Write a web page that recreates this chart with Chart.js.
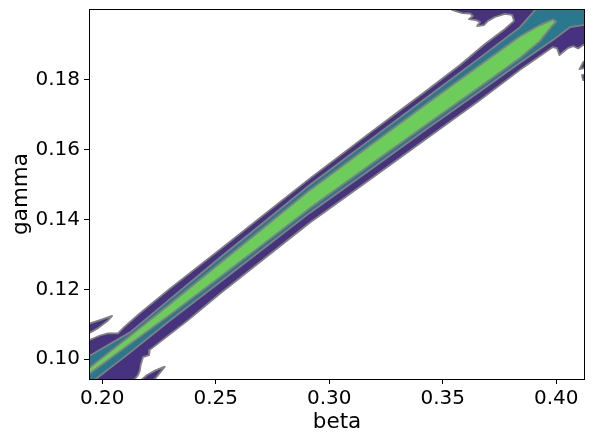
<!DOCTYPE html>
<html>
<head>
<meta charset="utf-8">
<script src="https://cdn.jsdelivr.net/npm/chart.js@4.4.1/dist/chart.umd.min.js"></script>
<style>
  html,body{margin:0;padding:0;background:#fff;}
  #wrap{width:594px;height:443px;}
</style>
</head>
<body>
<div id="wrap"><canvas id="myChart"></canvas></div>
<script>
const x_ticks = [0.20, 0.25, 0.30, 0.35, 0.40]
const y_ticks = [0.10, 0.12, 0.14, 0.16, 0.18]
const x_range = [0.19414, 0.41264]
const y_range = [0.09437, 0.20009]

const level_colors = ['#46327e', '#2a788e', '#6ccd5a']
const line_color = '#808080'

//level 1 (purple) [beta, gamma]
const lv1_main = [
  [0.1924,0.0929],[0.1924,0.1049],[0.1944,0.1055],[0.1990,0.1068],[0.2025,0.1074],[0.2069,0.1074],
  [0.2096,0.1092],[0.2166,0.1132],[0.2298,0.1202],[0.2519,0.1314],[0.2739,0.1427],[0.2915,0.1517],
  [0.3179,0.1647],[0.3311,0.1711],[0.3435,0.1771],[0.3576,0.1841],[0.3686,0.1901],[0.3774,0.1944],
  [0.3814,0.1967],
  [0.3805,0.1984],[0.3774,0.1987],[0.3730,0.1978],[0.3699,0.1967],[0.3681,0.1955],[0.3651,0.1952],
  [0.3664,0.1964],[0.3646,0.1969],[0.3615,0.1972],[0.3633,0.1981],[0.3620,0.1988],[0.3585,0.1989],
  [0.3541,0.1998],[0.3536,0.2012],[0.4170,0.2012],[0.4170,0.1898],
  [0.4118,0.1898],[0.4096,0.1888],[0.4074,0.1895],[0.4051,0.1889],[0.4030,0.1878],[0.4014,0.1869],
  [0.4003,0.1889],[0.3985,0.1892],[0.3840,0.1827],[0.3664,0.1741],[0.3435,0.1634],[0.3179,0.1514],
  [0.2915,0.1391],[0.2739,0.1301],[0.2519,0.1188],[0.2378,0.1112],
  [0.2209,0.1027],[0.2206,0.1012],[0.2179,0.1006],[0.2169,0.0984],
  [0.2165,0.0967],[0.2157,0.0955],[0.2143,0.0943],[0.2140,0.0929]
]
const lv1_finger = [
  [0.1924,0.1098],[0.1990,0.1112],[0.2043,0.1124],[0.2025,0.1111],[0.1981,0.1089],[0.1944,0.1075],[0.1924,0.1069]
]
const lv1_spike = [
  [0.2166,0.0938],[0.2197,0.0955],[0.2237,0.0969],[0.2275,0.0979],[0.2263,0.0969],[0.2232,0.0944],[0.2228,0.0938]
]
const lv1_island_a = [[0.4148,0.1855],[0.4119,0.1850],[0.4102,0.1829],[0.4122,0.1832],[0.4148,0.1827]]
const lv1_island_b = [[0.4148,0.1818],[0.4113,0.1812],[0.4118,0.1798],[0.4148,0.1798]]

//level 2 (teal)
const lv2 = [
  [0.1924,0.1015],[0.1950,0.1012],[0.2122,0.1077],[0.2298,0.1172],[0.2519,0.1291],[0.2739,0.1406],
  [0.2915,0.1499],[0.3179,0.1627],[0.3435,0.1751],[0.3664,0.1862],[0.3840,0.1949],[0.3911,0.2001],
  [0.3928,0.2015],[0.4170,0.2015],[0.4170,0.1955],[0.4118,0.1955],[0.4060,0.1949],[0.3985,0.1912],
  [0.3840,0.1847],[0.3664,0.1766],[0.3435,0.1661],[0.3179,0.1541],[0.2915,0.1419],[0.2739,0.1331],
  [0.2519,0.1221],[0.2298,0.1111],[0.2122,0.1019],[0.1972,0.0944],[0.1963,0.0929],[0.1924,0.0929]
]

//level 3 (green)
const lv3 = [
  [0.1924,0.0967],[0.1950,0.0979],[0.2122,0.1067],[0.2298,0.1158],[0.2519,0.1275],[0.2739,0.1391],
  [0.2915,0.1484],[0.3179,0.1611],[0.3435,0.1733],[0.3664,0.1841],[0.3840,0.1923],[0.3928,0.1955],
  [0.3963,0.1965],[0.3985,0.1971],[0.3999,0.1965],[0.3977,0.1949],[0.3928,0.1909],[0.3840,0.1861],
  [0.3664,0.1779],[0.3435,0.1674],[0.3179,0.1555],[0.2915,0.1432],[0.2739,0.1344],[0.2519,0.1235],
  [0.2298,0.1127],[0.2122,0.1044],[0.1950,0.0962],[0.1924,0.0949]
]

const contours = [
  {pts: lv1_main, lv: 0}, {pts: lv1_finger, lv: 0}, {pts: lv1_spike, lv: 0},
  {pts: lv1_island_a, lv: 0}, {pts: lv1_island_b, lv: 0},
  {pts: lv2, lv: 1}, {pts: lv3, lv: 2},
]

let graph_obj

const get_graph_data = () => {
  const datasets = contours.map((c) => {
    const data = c.pts.map(([x, y]) => ({x, y}))
    data.push({...data[0]}) //close
    return {
      data,
      showLine: true,
      fill: 'shape',
      backgroundColor: level_colors[c.lv],
      borderColor: line_color,
      borderWidth: 1.8,
      borderJoinStyle: 'round',
      pointRadius: 0,
      tension: 0,
      clip: 0,
      order: 3 - c.lv,
    }
  })
  return {datasets}
}

const frame_plugin = {
  id: 'frame',
  afterDraw(chart) {
    const {ctx, chartArea: a} = chart
    ctx.save()
    ctx.strokeStyle = '#000'
    ctx.lineWidth = 1
    const l = Math.floor(a.left) + 0.5, t = Math.floor(a.top) + 0.5
    const r = Math.floor(a.right) - 0.5, b = Math.floor(a.bottom) + 0.5
    ctx.strokeRect(l, t, r - l, b - t)
    ctx.restore()
  }
}

const create_graph = (ctx) => {
  if (graph_obj) graph_obj.destroy()
  Chart.defaults.font.family = '"DejaVu Sans", sans-serif'
  Chart.defaults.font.size = 20
  Chart.defaults.color = '#000'

  graph_obj = new Chart(ctx, {
    type: 'scatter',
    data: get_graph_data(),
    plugins: [frame_plugin],
    options: {
      responsive: true,
      maintainAspectRatio: false,
      animation: false,
      layout: {padding: {top: 9, right: 9, left: 0, bottom: 0}},
      plugins: {legend: {display: false}, tooltip: {enabled: false}},
      scales: {
        x: {
          type: 'linear',
          min: x_range[0], max: x_range[1],
          afterBuildTicks: (s) => { s.ticks = x_ticks.map((v) => ({value: v})) },
          afterFit: (s) => { s.height = 64; s.paddingLeft = 0; s.paddingRight = 0 },
          ticks: {autoSkip: false, maxRotation: 0, padding: 3, callback: (v) => v.toFixed(2)},
          grid: {drawOnChartArea: false, drawTicks: true, tickLength: 5, color: '#000', lineWidth: 1},
          border: {display: false},
          title: {display: true, text: 'beta', font: {size: 21.5}, padding: {top: 0, bottom: 8}},
        },
        y: {
          type: 'linear',
          min: y_range[0], max: y_range[1],
          afterBuildTicks: (s) => { s.ticks = y_ticks.map((v) => ({value: v})) },
          afterFit: (s) => { s.width = 89; s.paddingTop = 0; s.paddingBottom = 0 },
          ticks: {autoSkip: false, padding: 4, callback: (v) => v.toFixed(2)},
          grid: {drawOnChartArea: false, drawTicks: true, tickLength: 5, color: '#000', lineWidth: 1},
          border: {display: false},
          title: {display: true, text: 'gamma', font: {size: 21.5}, padding: {top: 9, bottom: 0}},
        },
      },
    },
  })
}

create_graph(document.getElementById('myChart'))
</script>
</body>
</html>
